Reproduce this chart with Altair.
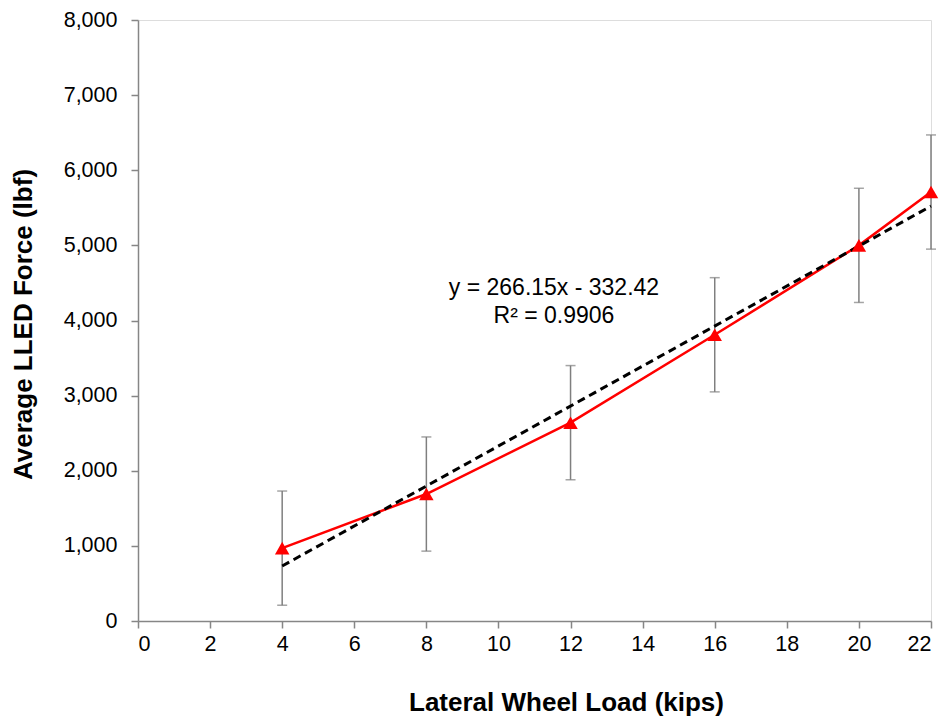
import altair as alt
import pandas as pd

# Lateral wheel load (kips) and average LLED force (lbf)
loads = [4, 8, 12, 16, 20, 22]
forces = [970, 1690, 2640, 3810, 5000, 5710]
errors = [760, 760, 760, 760, 760, 760]

# Linear trendline y = slope * x + intercept
slope = 266.15
intercept = -332.42
trend_x = [4, 22]

eq_labels = ["y = 266.15x - 332.42", "R² = 0.9906"]
eq_x = [11.54, 11.54]
eq_y = [4430, 4060]

font = "Liberation Sans"
axis_gray = "#868686"

df = pd.DataFrame({"load": loads, "force": forces, "err": errors})
df["lo"] = df["force"] - df["err"]
df["hi"] = df["force"] + df["err"]

trend = pd.DataFrame({"load": trend_x})
trend["force"] = slope * trend["load"] + intercept

eq = pd.DataFrame({"label": eq_labels, "x": eq_x, "y": eq_y})

x_scale = alt.Scale(domain=[0, 22], nice=False, zero=False)
y_scale = alt.Scale(domain=[0, 8000], nice=False)

x_axis = alt.Axis(
    title="Lateral Wheel Load (kips)", values=list(range(0, 23, 2)), grid=False,
    tickSize=7, tickColor=axis_gray, domainColor=axis_gray, domainWidth=1.5, tickWidth=1.5,
    labelFontSize=21.5, labelFont=font, labelColor="black", labelPadding=5,
    titleFontSize=26, titleFont=font, titleFontWeight="bold", titleColor="black",
    titleX=428, titleY=81, titleBaseline="middle", titleAlign="center",
)
y_axis = alt.Axis(
    title="Average LLED Force (lbf)", values=list(range(0, 8001, 1000)), format=",.0f",
    grid=False, tickSize=7, tickColor=axis_gray, domainColor=axis_gray, domainWidth=1.5,
    tickWidth=1.5, labelFontSize=21.5, labelFont=font, labelColor="black", labelPadding=14,
    titleFontSize=26, titleFont=font, titleFontWeight="bold", titleColor="black",
    titleX=-115, titleY=304, titleAngle=-90, titleBaseline="middle", titleAlign="center",
)

base = alt.Chart(df)

bars = base.mark_rule(color="#7f7f7f", strokeWidth=1.5).encode(
    x=alt.X("load:Q", scale=x_scale, axis=x_axis),
    y=alt.Y("lo:Q", scale=y_scale, axis=y_axis),
    y2="hi:Q",
)
cap_lo = base.mark_tick(color="#7f7f7f", orient="horizontal", size=10, thickness=1.5).encode(
    x=alt.X("load:Q", scale=x_scale), y=alt.Y("lo:Q", scale=y_scale)
)
cap_hi = base.mark_tick(color="#7f7f7f", orient="horizontal", size=10, thickness=1.5).encode(
    x=alt.X("load:Q", scale=x_scale), y=alt.Y("hi:Q", scale=y_scale)
)

trend_line = alt.Chart(trend).mark_line(
    color="black", strokeWidth=3, strokeDash=[8, 5]
).encode(x=alt.X("load:Q", scale=x_scale), y=alt.Y("force:Q", scale=y_scale))

data_line = base.mark_line(color="#ff0000", strokeWidth=2.5).encode(
    x=alt.X("load:Q", scale=x_scale), y=alt.Y("force:Q", scale=y_scale)
)
points = base.mark_point(
    shape="triangle-up", filled=True, color="#ff0000", size=210, opacity=1
).encode(x=alt.X("load:Q", scale=x_scale), y=alt.Y("force:Q", scale=y_scale))

labels = alt.Chart(eq).mark_text(
    font=font, fontSize=23, color="black", align="center", baseline="middle"
).encode(x=alt.X("x:Q", scale=x_scale), y=alt.Y("y:Q", scale=y_scale), text="label:N")

chart = alt.layer(bars, cap_lo, cap_hi, data_line, trend_line, points, labels).properties(
    width=793,
    height=601,
    autosize=alt.AutoSizeParams(type="none"),
    padding={"left": 138, "top": 20, "right": 16, "bottom": 96},
).configure_view(stroke=None).configure(background="white")

chart.save("out.html", embed_options={"renderer": "svg", "actions": False})
